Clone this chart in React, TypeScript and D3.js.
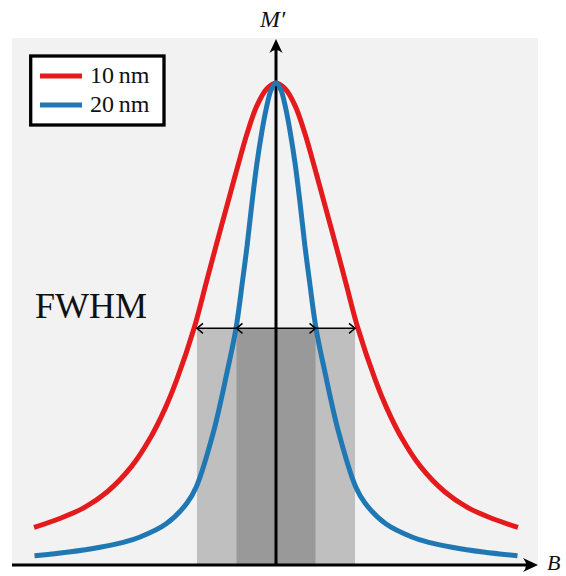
import React from "react";
import * as d3 from "d3";

// Curve samples (B in arbitrary units, M' normalised to peak = 1)
const redB = [-5.02, -4.5, -4.0, -3.5, -3.0, -2.6, -2.3, -2.06, -1.70, -1.45, -1.25, -1.0, -0.8, -0.6, -0.4, -0.19, 0,
  0.19, 0.4, 0.6, 0.8, 1.0, 1.25, 1.45, 1.70, 2.06, 2.3, 2.6, 3.0, 3.5, 4.0, 4.5, 5.02];
const redM = [0.078, 0.096, 0.118, 0.152, 0.204, 0.265, 0.325, 0.384, 0.491, 0.585, 0.66, 0.752, 0.825, 0.895, 0.952, 0.988, 1.0,
  0.988, 0.952, 0.895, 0.825, 0.752, 0.66, 0.585, 0.491, 0.384, 0.325, 0.265, 0.204, 0.152, 0.118, 0.096, 0.078];

const blueB = [-5.01, -4.3, -3.65, -3.17, -2.82, -2.27, -1.85, -1.65, -1.3, -1.02, -0.83, -0.7, -0.6, -0.5, -0.4, -0.3, -0.2, -0.1, 0,
  0.1, 0.2, 0.3, 0.4, 0.5, 0.6, 0.7, 0.83, 1.02, 1.3, 1.65, 1.85, 2.27, 2.82, 3.17, 3.65, 4.3, 5.01];
const blueM = [0.019, 0.027, 0.037, 0.047, 0.058, 0.086, 0.128, 0.163, 0.275, 0.398, 0.491, 0.585, 0.662, 0.75, 0.83, 0.895, 0.948, 0.986, 1.0,
  0.986, 0.948, 0.895, 0.83, 0.75, 0.662, 0.585, 0.491, 0.398, 0.275, 0.163, 0.128, 0.086, 0.058, 0.047, 0.037, 0.027, 0.019];

const seriesNames = ["10\u2009nm", "20\u2009nm"];
const seriesColors = ["#e41a1c", "#1f78b4"];
// FWHM half-widths and half-maximum level
const fwhmHalf = [1.64, 0.82];
const halfLevel = 0.491;

export default function App() {
  const W = 566, H = 576;
  const x = d3.scaleLinear().domain([-5, 5]).range([35, 517]);
  const y = d3.scaleLinear().domain([0, 1]).range([565, 83]);
  const line = d3
    .line<[number, number]>()
    .x((d) => x(d[0]))
    .y((d) => y(d[1]))
    .curve(d3.curveCatmullRom.alpha(0.5));
  const redPts = redB.map((b, i) => [b, redM[i]] as [number, number]);
  const bluePts = blueB.map((b, i) => [b, blueM[i]] as [number, number]);

  const x0 = x(0);
  const axisY = y(0);
  const hy = y(halfLevel);
  const serif = "'Liberation Serif', serif";

  const chevron = (px: number, dir: number) =>
    `M${px + dir * 6},${hy - 5} L${px},${hy} L${px + dir * 6},${hy + 5}`;

  return (
    <svg width={W} height={H} style={{ position: "absolute", left: 0, top: 0 }}>
      <rect x={12} y={38} width={526} height={axisY - 38} fill="#f2f2f2" />
      {/* FWHM shaded bands */}
      <rect x={x(-fwhmHalf[0])} y={hy} width={x(fwhmHalf[0]) - x(-fwhmHalf[0])} height={axisY - hy} fill="#bfbfbf" />
      <rect x={x(-fwhmHalf[1])} y={hy} width={x(fwhmHalf[1]) - x(-fwhmHalf[1])} height={axisY - hy} fill="#999999" />
      {/* axes */}
      <line x1={12} y1={axisY} x2={528} y2={axisY} stroke="#000" strokeWidth={3} />
      <path d={`M538,${axisY} L523,${axisY - 7} Q529,${axisY} 523,${axisY + 7} Z`} fill="#000" />
      <line x1={x0} y1={axisY} x2={x0} y2={48} stroke="#000" strokeWidth={3} />
      <path d={`M${x0},39 L${x0 - 6.5},53 Q${x0},47 ${x0 + 6.5},53 Z`} fill="#000" />
      {/* curves */}
      <path d={line(redPts) || ""} fill="none" stroke={seriesColors[0]} strokeWidth={5} />
      <path d={line(bluePts) || ""} fill="none" stroke={seriesColors[1]} strokeWidth={5} />
      {/* FWHM arrows */}
      <line x1={x(-fwhmHalf[0])} y1={hy} x2={x(fwhmHalf[0])} y2={hy} stroke="#000" strokeWidth={1.5} />
      <g fill="none" stroke="#000" strokeWidth={1.5}>
        <path d={chevron(x(-fwhmHalf[0]), 1)} />
        <path d={chevron(x(fwhmHalf[0]), -1)} />
        <path d={chevron(x(-fwhmHalf[1]), 1)} />
        <path d={chevron(x(fwhmHalf[1]), -1)} />
      </g>
      <text x={35} y={318} fontFamily={serif} fontSize={36} fill="#111">FWHM</text>
      {/* legend */}
      <rect x={30.7} y={56} width={133.3} height={69} fill="#fff" stroke="#000" strokeWidth={3.3} />
      {seriesNames.map((name, i) => (
        <g key={name}>
          <line x1={40} x2={82} y1={76 + i * 29} y2={76 + i * 29} stroke={seriesColors[i]} strokeWidth={5} />
          <text x={90} y={82.5 + i * 29} fontFamily={serif} fontSize={24} fill="#111">{name}</text>
        </g>
      ))}
      {/* axis labels */}
      <text x={260} y={27} fontFamily={serif} fontStyle="italic" fontSize={24} fill="#111">M′</text>
      <text x={547} y={570} fontFamily={serif} fontStyle="italic" fontSize={22} fill="#111">B</text>
    </svg>
  );
}
